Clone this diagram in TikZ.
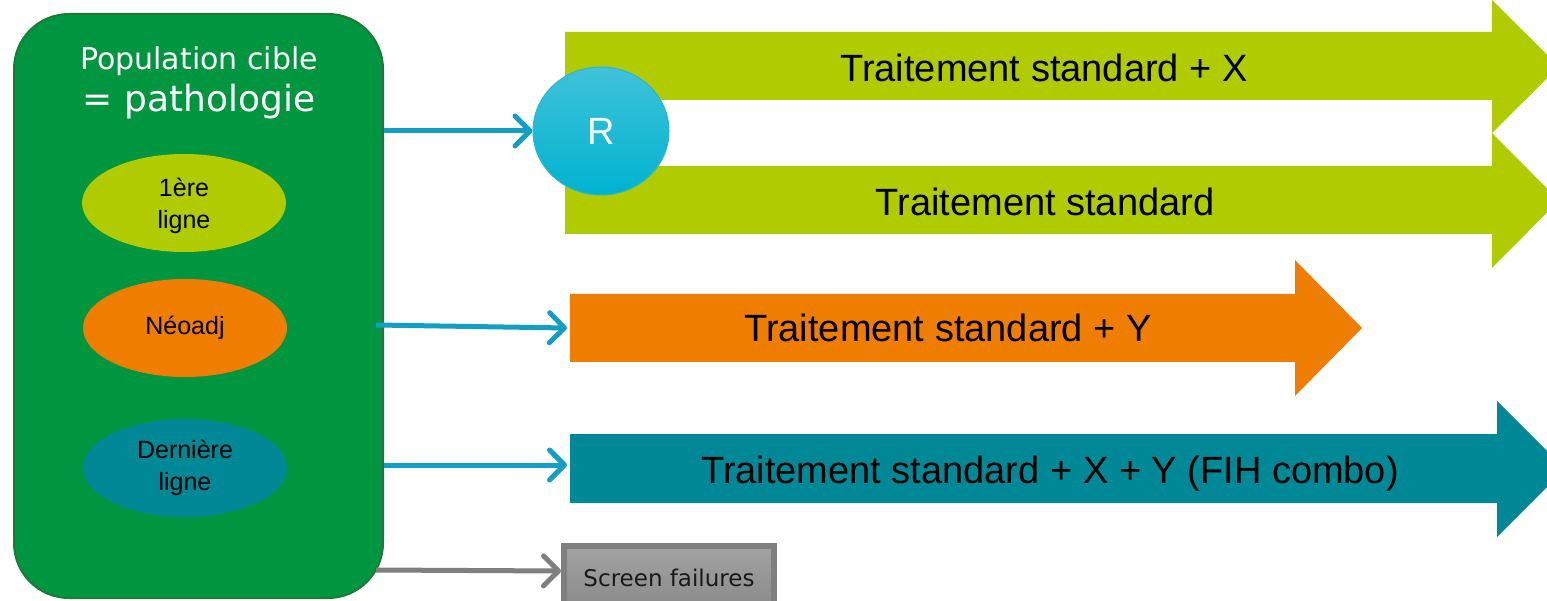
\documentclass[tikz,border=0pt]{standalone}
\usepackage{fontspec}
\setmainfont{Liberation Sans}
\newfontfamily\verd{DejaVu Sans}
\usetikzlibrary{arrows.meta,shapes.geometric}
\definecolor{popgreen}{HTML}{00963F}
\definecolor{popborder}{HTML}{1B7A38}
\definecolor{limec}{HTML}{B0CB00}
\definecolor{orangec}{HTML}{EF7D00}
\definecolor{tealc}{HTML}{008896}
\definecolor{connc}{HTML}{139FC3}
\definecolor{rtop}{HTML}{40C2DA}
\definecolor{rbot}{HTML}{00B3CF}
\definecolor{rborder}{HTML}{2BB5D2}
\definecolor{grayline}{HTML}{7F7F7F}
\definecolor{graytop}{HTML}{A2A2A2}
\definecolor{graybot}{HTML}{8C8C8C}
\tikzset{
  subpop/.style={ellipse, minimum width=204, minimum height=98, inner sep=0, align=center,
    font=\fontsize{25}{32}\selectfont, text=black},
  bigtext/.style={font=\fontsize{38}{46}\selectfont, text=black, inner sep=0},
  conn/.style={draw=connc, line width=5, -{Straight Barb[length=15,width=30,round]}},
  gconn/.style={draw=grayline, line width=5, -{Straight Barb[length=15,width=30,round]}}
}
\begin{document}
\begin{tikzpicture}[x=1pt,y=-1pt]
\clip (0,0) rectangle (1547,601);
\fill[white] (0,0) rectangle (1547,601);
% population box
\node[draw=popborder, line width=2, fill=popgreen, rounded corners=55,
  minimum width=369, minimum height=584, inner sep=0] (pop) at (198.5,306) {};
\node[text=white, font=\verd\fontsize{30}{36}\selectfont, inner sep=0] (t1) at (199,61) {Population cible};
\node[text=white, font=\verd\fontsize{36}{42}\selectfont, inner sep=0] (t2) at (199,102) {= pathologie};
\node[subpop, fill=limec, text depth=0pt] (e1) at (184,203) {1ère\\ligne};
\node[subpop, fill=orangec] (e2) at (185,328) {Néoadj};
\node[subpop, fill=tealc] (e3) at (185,468) {Dernière\\ligne};
% big arrows
\fill[limec] (565,32) -- (1492,32) -- (1492,0) -- (1559,66.5) -- (1492,133) -- (1492,100) -- (565,100) -- cycle;
\fill[limec] (565,166) -- (1492,166) -- (1492,133) -- (1559,200.5) -- (1492,268) -- (1492,234) -- (565,234) -- cycle;
\fill[orangec] (570,294) -- (1295,294) -- (1295,260) -- (1362,328) -- (1295,396) -- (1295,362) -- (570,362) -- cycle;
\fill[tealc] (570,434) -- (1497,434) -- (1497,401) -- (1565,469) -- (1497,537) -- (1497,503) -- (570,503) -- cycle;
\node[bigtext] (a1) at (1044,68) {Traitement standard + X};
\node[bigtext] (a2) at (1045,202) {Traitement standard};
\node[bigtext] (a3) at (948,328) {Traitement standard + Y};
\node[bigtext] (a4) at (1050,474) {Traitement standard + X + Y (FIH combo)};
\coordinate (in3) at (567,328);
\coordinate (in4) at (567,465);
% R circle
\node[ellipse, minimum width=136, minimum height=128, inner sep=0, top color=rtop, bottom color=rbot,
  draw=rborder, line width=1, text=white, font=\fontsize{38}{46}\selectfont] (R) at (601,131) {R};
% screen failures
\node[draw=grayline, line width=6, top color=graytop, bottom color=graybot, minimum width=210,
  minimum height=58, inner sep=0] (sf) at (669,575) {};
\node[font=\verd\fontsize{23}{28}\selectfont, text=black!90, inner sep=0] (sft) at (669,578) {Screen failures};
% connectors
\draw[conn] (pop.east |- R.west) -- (R.west);
\draw[conn] ([xshift=-8]pop.east |- 0,325) -- (in3);
\draw[conn] (pop.east |- in4) -- (in4);
\draw[gconn] ([xshift=-8]pop.east |- 0,570) -- (sf.west |- 0,571);
\end{tikzpicture}
\end{document}
